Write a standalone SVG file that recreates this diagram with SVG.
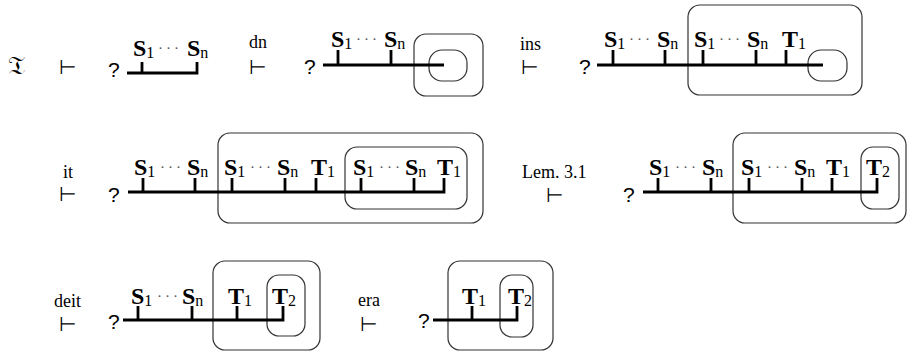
<svg xmlns="http://www.w3.org/2000/svg" width="909" height="351" viewBox="0 0 909 351">
  <style>
    .bar{fill:none;stroke:#000;stroke-width:2.8;stroke-linecap:butt;stroke-linejoin:miter}
    .box{fill:none;stroke:#333;stroke-width:1.2}
    .v{font-family:"Liberation Serif",serif;font-weight:bold;font-size:24px;fill:#000}
    .s{font-weight:normal;font-size:16px}
    .dots{font-family:"Liberation Serif",serif;font-size:15px;letter-spacing:3px;fill:#555}
    .q{font-family:"Liberation Sans",sans-serif;font-size:21px;fill:#000}
    .rl{font-family:"Liberation Serif",serif;font-size:18px;fill:#000}
    .vd{font-family:"DejaVu Sans",sans-serif;font-size:20px;fill:#000}
    .fr{font-family:"DejaVu Serif","DejaVu Sans",serif;font-size:26px;fill:#000}
  </style>

  <!-- row 1 -->
  <g id="theory">
    <text class="fr" x="8" y="74">𝔗</text>
    <text class="vd" x="59" y="74">⊢</text>
  </g>

  <g id="term1">
    <text class="q" x="108" y="77">?</text>
    <path class="bar" d="M127,73 H197 V62 M142,73 V62"/>
    <text class="v" x="133" y="56">S<tspan class="s" dy="2">1</tspan></text>
    <text class="dots" x="158" y="53">···</text>
    <text class="v" x="187" y="56">S<tspan class="s" dy="2">n</tspan></text>
  </g>

  <g id="step-dn">
    <text class="rl" x="249" y="48">dn</text>
    <text class="vd" x="249" y="74">⊢</text>
  </g>

  <g id="term2">
    <text class="q" x="304" y="74">?</text>
    <rect class="box" x="414" y="34" width="69" height="62" rx="12"/>
    <rect class="box" x="429" y="50" width="38" height="31" rx="13"/>
    <path class="bar" d="M323,65 H444 M338,65 V50 M391,65 V50"/>
    <text class="v" x="331" y="47">S<tspan class="s" dy="2">1</tspan></text>
    <text class="dots" x="356" y="44">···</text>
    <text class="v" x="384" y="47">S<tspan class="s" dy="2">n</tspan></text>
  </g>

  <g id="step-ins">
    <text class="rl" x="520" y="50">ins</text>
    <text class="vd" x="521" y="74">⊢</text>
  </g>

  <g id="term3">
    <text class="q" x="579" y="74">?</text>
    <rect class="box" x="688" y="5" width="174" height="90" rx="12"/>
    <rect class="box" x="808" y="50" width="39" height="31" rx="13"/>
    <path class="bar" d="M597,65 H823 M613,65 V50 M665,65 V50 M703,65 V50 M756,65 V50 M786,65 V50"/>
    <text class="v" x="604" y="47">S<tspan class="s" dy="2">1</tspan></text>
    <text class="dots" x="629" y="44">···</text>
    <text class="v" x="657" y="47">S<tspan class="s" dy="2">n</tspan></text>
    <text class="v" x="694" y="47">S<tspan class="s" dy="2">1</tspan></text>
    <text class="dots" x="719" y="44">···</text>
    <text class="v" x="747" y="47">S<tspan class="s" dy="2">n</tspan></text>
    <text class="v" x="782" y="47">T<tspan class="s" dy="2">1</tspan></text>
  </g>

  <!-- row 2 -->
  <g id="step-it">
    <text class="rl" x="63" y="178">it</text>
    <text class="vd" x="59" y="201">⊢</text>
  </g>

  <g id="term4">
    <text class="q" x="108" y="202">?</text>
    <rect class="box" x="218" y="133" width="265" height="90" rx="12"/>
    <rect class="box" x="345" y="147" width="122" height="62" rx="12"/>
    <path class="bar" d="M128,192 H444 V178 M143,192 V178 M195,192 V178 M232,192 V178 M285,192 V178 M316,192 V178 M361,192 V178 M414,192 V178"/>
    <text class="v" x="134" y="175">S<tspan class="s" dy="2">1</tspan></text>
    <text class="dots" x="160" y="172">···</text>
    <text class="v" x="187" y="175">S<tspan class="s" dy="2">n</tspan></text>
    <text class="v" x="224" y="175">S<tspan class="s" dy="2">1</tspan></text>
    <text class="dots" x="250" y="172">···</text>
    <text class="v" x="277" y="175">S<tspan class="s" dy="2">n</tspan></text>
    <text class="v" x="311" y="175">T<tspan class="s" dy="2">1</tspan></text>
    <text class="v" x="353" y="175">S<tspan class="s" dy="2">1</tspan></text>
    <text class="dots" x="379" y="172">···</text>
    <text class="v" x="405" y="175">S<tspan class="s" dy="2">n</tspan></text>
    <text class="v" x="437" y="175">T<tspan class="s" dy="2">1</tspan></text>
  </g>

  <g id="step-lem">
    <text class="rl" x="522" y="178">Lem. 3.1</text>
    <text class="vd" x="546" y="202">⊢</text>
  </g>

  <g id="term5">
    <text class="q" x="623" y="202">?</text>
    <rect class="box" x="733" y="133" width="173" height="90" rx="12"/>
    <rect class="box" x="861" y="147" width="38" height="62" rx="12"/>
    <path class="bar" d="M643,192 H877 V178 M658,192 V178 M711,192 V178 M749,192 V178 M802,192 V178 M832,192 V178"/>
    <text class="v" x="649" y="175">S<tspan class="s" dy="2">1</tspan></text>
    <text class="dots" x="675" y="172">···</text>
    <text class="v" x="702" y="175">S<tspan class="s" dy="2">n</tspan></text>
    <text class="v" x="741" y="175">S<tspan class="s" dy="2">1</tspan></text>
    <text class="dots" x="767" y="172">···</text>
    <text class="v" x="794" y="175">S<tspan class="s" dy="2">n</tspan></text>
    <text class="v" x="826" y="175">T<tspan class="s" dy="2">1</tspan></text>
    <text class="v" x="866" y="175">T<tspan class="s" dy="2">2</tspan></text>
  </g>

  <!-- row 3 -->
  <g id="step-deit">
    <text class="rl" x="54" y="307">deit</text>
    <text class="vd" x="59" y="331">⊢</text>
  </g>

  <g id="term6">
    <text class="q" x="108" y="329">?</text>
    <rect class="box" x="213" y="261" width="107" height="89" rx="12"/>
    <rect class="box" x="267" y="275" width="38" height="61" rx="12"/>
    <path class="bar" d="M123,320 H283 V306 M138,320 V306 M192,320 V306 M237,320 V306"/>
    <text class="v" x="131" y="304">S<tspan class="s" dy="2">1</tspan></text>
    <text class="dots" x="157" y="301">···</text>
    <text class="v" x="182" y="304">S<tspan class="s" dy="2">n</tspan></text>
    <text class="v" x="228" y="304">T<tspan class="s" dy="2">1</tspan></text>
    <text class="v" x="272" y="304">T<tspan class="s" dy="2">2</tspan></text>
  </g>

  <g id="step-era">
    <text class="rl" x="358" y="306">era</text>
    <text class="vd" x="360" y="331">⊢</text>
  </g>

  <g id="term7">
    <text class="q" x="418" y="328">?</text>
    <rect class="box" x="448" y="261" width="105" height="89" rx="12"/>
    <rect class="box" x="500" y="275" width="33" height="62" rx="12"/>
    <path class="bar" d="M433,320 H517 V306 M472,320 V306"/>
    <text class="v" x="462" y="304">T<tspan class="s" dy="2">1</tspan></text>
    <text class="v" x="508" y="304">T<tspan class="s" dy="2">2</tspan></text>
  </g>
</svg>
